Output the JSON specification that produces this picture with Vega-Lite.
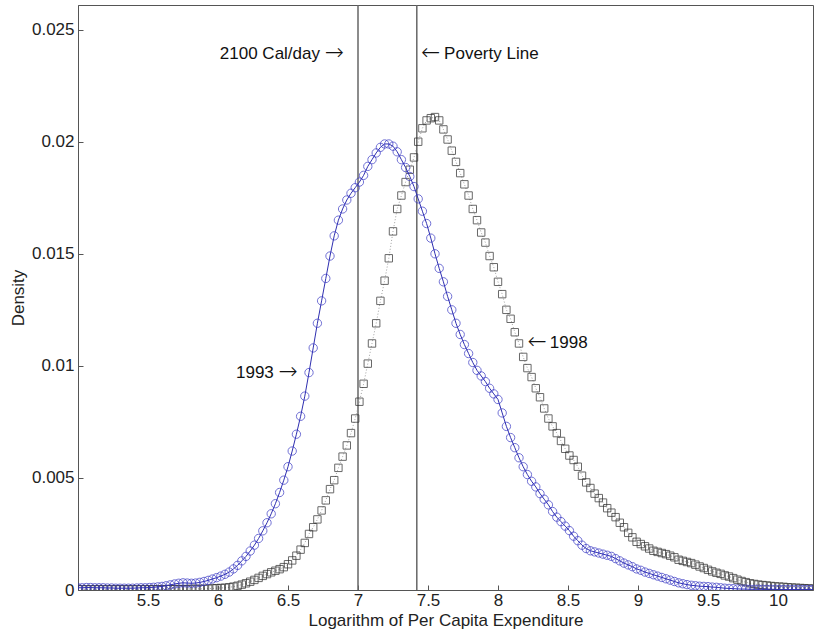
{
  "$schema": "https://vega.github.io/schema/vega-lite/v6.json",
  "width": 735,
  "height": 585,
  "autosize": {"type": "none"},
  "padding": {"left": 78, "top": 5, "right": 2, "bottom": 49},
  "background": "white",
  "config": {
    "view": {"stroke": "#555", "strokeWidth": 1},
    "font": "Liberation Sans",
    "axis": {
      "grid": false,
      "domainColor": "#555",
      "tickColor": "#555",
      "tickSize": -5,
      "labelFont": "Liberation Sans",
      "labelFontSize": 17,
      "labelColor": "#222",
      "titleFont": "Liberation Sans",
      "titleFontSize": 17,
      "titleFontWeight": "normal",
      "titleColor": "#222"
    }
  },
  "datasets": {
    "d93": [
      {"x":5.00,"y":0.00010},{"x":5.03,"y":0.00010},{"x":5.06,"y":0.00011},{"x":5.09,"y":0.00011},{"x":5.12,"y":0.00010},{"x":5.15,"y":0.00010},{"x":5.18,"y":0.00010},{"x":5.21,"y":0.00009},{"x":5.24,"y":0.00009},{"x":5.27,"y":0.00008},
      {"x":5.30,"y":0.00008},{"x":5.33,"y":0.00008},{"x":5.36,"y":0.00008},{"x":5.39,"y":0.00008},{"x":5.42,"y":0.00009},{"x":5.45,"y":0.00010},{"x":5.48,"y":0.00010},{"x":5.51,"y":0.00011},{"x":5.54,"y":0.00012},{"x":5.57,"y":0.00014},
      {"x":5.60,"y":0.00016},{"x":5.63,"y":0.00019},{"x":5.66,"y":0.00023},{"x":5.69,"y":0.00027},{"x":5.72,"y":0.00030},{"x":5.75,"y":0.00032},{"x":5.78,"y":0.00031},{"x":5.81,"y":0.00030},{"x":5.84,"y":0.00031},{"x":5.87,"y":0.00034},
      {"x":5.90,"y":0.00038},{"x":5.93,"y":0.00043},{"x":5.96,"y":0.00049},{"x":5.99,"y":0.00055},{"x":6.02,"y":0.00062},{"x":6.05,"y":0.00070},{"x":6.08,"y":0.00080},{"x":6.11,"y":0.00094},{"x":6.14,"y":0.00110},{"x":6.17,"y":0.00130},
      {"x":6.20,"y":0.00150},{"x":6.23,"y":0.00174},{"x":6.26,"y":0.00200},{"x":6.29,"y":0.00230},{"x":6.32,"y":0.00264},{"x":6.35,"y":0.00300},{"x":6.38,"y":0.00340},{"x":6.41,"y":0.00385},{"x":6.44,"y":0.00435},{"x":6.47,"y":0.00490},
      {"x":6.50,"y":0.00550},{"x":6.53,"y":0.00620},{"x":6.56,"y":0.00695},{"x":6.59,"y":0.00775},{"x":6.62,"y":0.00865},{"x":6.65,"y":0.00970},{"x":6.68,"y":0.01080},{"x":6.71,"y":0.01190},{"x":6.74,"y":0.01290},{"x":6.77,"y":0.01390},
      {"x":6.80,"y":0.01490},{"x":6.83,"y":0.01580},{"x":6.86,"y":0.01650},{"x":6.89,"y":0.01700},{"x":6.92,"y":0.01740},{"x":6.95,"y":0.01770},{"x":6.98,"y":0.01795},{"x":7.01,"y":0.01820},{"x":7.04,"y":0.01850},{"x":7.07,"y":0.01890},
      {"x":7.10,"y":0.01920},{"x":7.13,"y":0.01950},{"x":7.16,"y":0.01975},{"x":7.19,"y":0.01990},{"x":7.22,"y":0.01990},{"x":7.25,"y":0.01980},{"x":7.28,"y":0.01955},{"x":7.31,"y":0.01920},{"x":7.34,"y":0.01885},{"x":7.37,"y":0.01845},
      {"x":7.40,"y":0.01800},{"x":7.43,"y":0.01745},{"x":7.46,"y":0.01690},{"x":7.49,"y":0.01635},{"x":7.52,"y":0.01570},{"x":7.55,"y":0.01500},{"x":7.58,"y":0.01435},{"x":7.61,"y":0.01375},{"x":7.64,"y":0.01310},{"x":7.67,"y":0.01250},
      {"x":7.70,"y":0.01190},{"x":7.73,"y":0.01140},{"x":7.76,"y":0.01095},{"x":7.79,"y":0.01055},{"x":7.82,"y":0.01015},{"x":7.85,"y":0.00980},{"x":7.88,"y":0.00955},{"x":7.91,"y":0.00930},{"x":7.94,"y":0.00900},{"x":7.97,"y":0.00875},
      {"x":8.00,"y":0.00850},{"x":8.03,"y":0.00790},{"x":8.06,"y":0.00730},{"x":8.09,"y":0.00680},{"x":8.12,"y":0.00635},{"x":8.15,"y":0.00590},{"x":8.18,"y":0.00550},{"x":8.21,"y":0.00515},{"x":8.24,"y":0.00485},{"x":8.27,"y":0.00460},
      {"x":8.30,"y":0.00430},{"x":8.33,"y":0.00405},{"x":8.36,"y":0.00380},{"x":8.39,"y":0.00350},{"x":8.42,"y":0.00325},{"x":8.45,"y":0.00305},{"x":8.48,"y":0.00285},{"x":8.51,"y":0.00265},{"x":8.54,"y":0.00240},{"x":8.57,"y":0.00220},
      {"x":8.60,"y":0.00200},{"x":8.63,"y":0.00185},{"x":8.66,"y":0.00175},{"x":8.69,"y":0.00170},{"x":8.72,"y":0.00165},{"x":8.75,"y":0.00160},{"x":8.78,"y":0.00155},{"x":8.81,"y":0.00150},{"x":8.84,"y":0.00140},{"x":8.87,"y":0.00130},
      {"x":8.90,"y":0.00120},{"x":8.93,"y":0.00112},{"x":8.96,"y":0.00104},{"x":8.99,"y":0.00094},{"x":9.02,"y":0.00088},{"x":9.05,"y":0.00080},{"x":9.08,"y":0.00074},{"x":9.11,"y":0.00068},{"x":9.14,"y":0.00062},{"x":9.17,"y":0.00056},
      {"x":9.20,"y":0.00050},{"x":9.23,"y":0.00044},{"x":9.26,"y":0.00038},{"x":9.29,"y":0.00032},{"x":9.32,"y":0.00028},{"x":9.35,"y":0.00024},{"x":9.38,"y":0.00021},{"x":9.41,"y":0.00019},{"x":9.44,"y":0.00017},{"x":9.47,"y":0.00016},
      {"x":9.50,"y":0.00015},{"x":9.53,"y":0.00013},{"x":9.56,"y":0.00012},{"x":9.59,"y":0.00010},{"x":9.62,"y":0.00008},{"x":9.65,"y":0.00007},{"x":9.68,"y":0.00006},{"x":9.71,"y":0.00005},{"x":9.74,"y":0.00004},{"x":9.77,"y":0.00004},
      {"x":9.80,"y":0.00003},{"x":9.83,"y":0.00003},{"x":9.86,"y":0.00003},{"x":9.89,"y":0.00003},{"x":9.92,"y":0.00003},{"x":9.95,"y":0.00003},{"x":9.98,"y":0.00003},{"x":10.01,"y":0.00002},{"x":10.04,"y":0.00002},{"x":10.07,"y":0.00002},
      {"x":10.10,"y":0.00002},{"x":10.13,"y":0.00002},{"x":10.16,"y":0.00002},{"x":10.19,"y":0.00002},{"x":10.22,"y":0.00002},{"x":10.25,"y":0.00002}
    ],
    "d98": [
      {"x":5.00,"y":0.00003},{"x":5.03,"y":0.00003},{"x":5.06,"y":0.00003},{"x":5.09,"y":0.00003},{"x":5.12,"y":0.00003},{"x":5.15,"y":0.00003},{"x":5.18,"y":0.00003},{"x":5.21,"y":0.00003},{"x":5.24,"y":0.00003},{"x":5.27,"y":0.00003},
      {"x":5.30,"y":0.00003},{"x":5.33,"y":0.00003},{"x":5.36,"y":0.00003},{"x":5.39,"y":0.00003},{"x":5.42,"y":0.00003},{"x":5.45,"y":0.00003},{"x":5.48,"y":0.00003},{"x":5.51,"y":0.00003},{"x":5.54,"y":0.00003},{"x":5.57,"y":0.00003},
      {"x":5.60,"y":0.00003},{"x":5.63,"y":0.00004},{"x":5.66,"y":0.00004},{"x":5.69,"y":0.00004},{"x":5.72,"y":0.00004},{"x":5.75,"y":0.00004},{"x":5.78,"y":0.00004},{"x":5.81,"y":0.00005},{"x":5.84,"y":0.00005},{"x":5.87,"y":0.00005},
      {"x":5.90,"y":0.00005},{"x":5.93,"y":0.00006},{"x":5.96,"y":0.00007},{"x":5.99,"y":0.00008},{"x":6.02,"y":0.00009},{"x":6.05,"y":0.00010},{"x":6.08,"y":0.00012},{"x":6.11,"y":0.00015},{"x":6.14,"y":0.00019},{"x":6.17,"y":0.00024},
      {"x":6.20,"y":0.00030},{"x":6.23,"y":0.00037},{"x":6.26,"y":0.00045},{"x":6.29,"y":0.00054},{"x":6.32,"y":0.00063},{"x":6.35,"y":0.00071},{"x":6.38,"y":0.00079},{"x":6.41,"y":0.00086},{"x":6.44,"y":0.00093},{"x":6.47,"y":0.00102},
      {"x":6.50,"y":0.00115},{"x":6.53,"y":0.00132},{"x":6.56,"y":0.00153},{"x":6.59,"y":0.00180},{"x":6.62,"y":0.00210},{"x":6.65,"y":0.00250},{"x":6.68,"y":0.00280},{"x":6.71,"y":0.00315},{"x":6.74,"y":0.00355},{"x":6.77,"y":0.00400},
      {"x":6.80,"y":0.00450},{"x":6.83,"y":0.00490},{"x":6.86,"y":0.00545},{"x":6.89,"y":0.00595},{"x":6.92,"y":0.00645},{"x":6.95,"y":0.00700},{"x":6.98,"y":0.00765},{"x":7.01,"y":0.00840},{"x":7.04,"y":0.00920},{"x":7.07,"y":0.01010},
      {"x":7.10,"y":0.01100},{"x":7.13,"y":0.01190},{"x":7.16,"y":0.01290},{"x":7.19,"y":0.01380},{"x":7.22,"y":0.01480},{"x":7.25,"y":0.01600},{"x":7.28,"y":0.01700},{"x":7.31,"y":0.01760},{"x":7.34,"y":0.01820},{"x":7.37,"y":0.01875},
      {"x":7.40,"y":0.01930},{"x":7.43,"y":0.02000},{"x":7.46,"y":0.02060},{"x":7.49,"y":0.02095},{"x":7.52,"y":0.02105},{"x":7.55,"y":0.02110},{"x":7.58,"y":0.02095},{"x":7.61,"y":0.02055},{"x":7.64,"y":0.02010},{"x":7.67,"y":0.01960},
      {"x":7.70,"y":0.01910},{"x":7.73,"y":0.01860},{"x":7.76,"y":0.01810},{"x":7.79,"y":0.01760},{"x":7.82,"y":0.01700},{"x":7.85,"y":0.01650},{"x":7.88,"y":0.01595},{"x":7.91,"y":0.01550},{"x":7.94,"y":0.01490},{"x":7.97,"y":0.01440},
      {"x":8.00,"y":0.01375},{"x":8.03,"y":0.01320},{"x":8.06,"y":0.01250},{"x":8.09,"y":0.01210},{"x":8.12,"y":0.01150},{"x":8.15,"y":0.01100},{"x":8.18,"y":0.01040},{"x":8.21,"y":0.00990},{"x":8.24,"y":0.00950},{"x":8.27,"y":0.00900},
      {"x":8.30,"y":0.00860},{"x":8.33,"y":0.00810},{"x":8.36,"y":0.00765},{"x":8.39,"y":0.00730},{"x":8.42,"y":0.00700},{"x":8.45,"y":0.00665},{"x":8.48,"y":0.00630},{"x":8.51,"y":0.00600},{"x":8.54,"y":0.00580},{"x":8.57,"y":0.00550},
      {"x":8.60,"y":0.00510},{"x":8.63,"y":0.00480},{"x":8.66,"y":0.00455},{"x":8.69,"y":0.00430},{"x":8.72,"y":0.00410},{"x":8.75,"y":0.00390},{"x":8.78,"y":0.00365},{"x":8.81,"y":0.00345},{"x":8.84,"y":0.00325},{"x":8.87,"y":0.00300},
      {"x":8.90,"y":0.00280},{"x":8.93,"y":0.00255},{"x":8.96,"y":0.00235},{"x":8.99,"y":0.00215},{"x":9.02,"y":0.00205},{"x":9.05,"y":0.00195},{"x":9.08,"y":0.00185},{"x":9.11,"y":0.00175},{"x":9.14,"y":0.00170},{"x":9.17,"y":0.00165},
      {"x":9.20,"y":0.00160},{"x":9.23,"y":0.00153},{"x":9.26,"y":0.00146},{"x":9.29,"y":0.00135},{"x":9.32,"y":0.00130},{"x":9.35,"y":0.00125},{"x":9.38,"y":0.00120},{"x":9.41,"y":0.00113},{"x":9.44,"y":0.00105},{"x":9.47,"y":0.00098},
      {"x":9.50,"y":0.00090},{"x":9.53,"y":0.00083},{"x":9.56,"y":0.00077},{"x":9.59,"y":0.00072},{"x":9.62,"y":0.00065},{"x":9.65,"y":0.00060},{"x":9.68,"y":0.00053},{"x":9.71,"y":0.00046},{"x":9.74,"y":0.00040},{"x":9.77,"y":0.00035},
      {"x":9.80,"y":0.00030},{"x":9.83,"y":0.00027},{"x":9.86,"y":0.00024},{"x":9.89,"y":0.00022},{"x":9.92,"y":0.00020},{"x":9.95,"y":0.00018},{"x":9.98,"y":0.00016},{"x":10.01,"y":0.00015},{"x":10.04,"y":0.00014},{"x":10.07,"y":0.00012},
      {"x":10.10,"y":0.00011},{"x":10.13,"y":0.00010},{"x":10.16,"y":0.00009},{"x":10.19,"y":0.00008},{"x":10.22,"y":0.00007},{"x":10.25,"y":0.00006}
    ],
    "vlines": [{"v": 7.0}, {"v": 7.42}],
    "labR": [
      {"x": 6.90, "y": 0.0239, "t": "2100 Cal/day"},
      {"x": 6.57, "y": 0.0097, "t": "1993"}
    ],
    "labL": [
      {"x": 7.615, "y": 0.0239, "t": "Poverty Line"},
      {"x": 8.37, "y": 0.0110, "t": "1998"}
    ],
    "arrR": [
      {"x": 6.90, "y": 0.0239, "t": "→"},
      {"x": 6.57, "y": 0.0097, "t": "→"}
    ],
    "arrL": [
      {"x": 7.45, "y": 0.0239, "t": "←"},
      {"x": 8.21, "y": 0.0110, "t": "←"}
    ]
  },
  "layer": [
    {
      "data": {"name": "vlines"},
      "mark": {"type": "rule", "color": "#666", "strokeWidth": 1.5},
      "encoding": {
        "x": {
          "field": "v", "type": "quantitative",
          "scale": {"domain": [5, 10.25], "nice": false, "zero": false},
          "axis": {
            "values": [5.5, 6, 6.5, 7, 7.5, 8, 8.5, 9, 9.5, 10],
            "format": "~g",
            "title": "Logarithm of Per Capita Expenditure",
            "labelPadding": 7,
            "titlePadding": 4
          }
        },
        "y": {"value": 0},
        "y2": {"value": 585}
      }
    },
    {
      "data": {"name": "d98"},
      "mark": {"type": "line", "color": "#888", "strokeWidth": 0.8, "strokeDash": [1, 2], "clip": true},
      "encoding": {
        "x": {"field": "x", "type": "quantitative"},
        "y": {
          "field": "y", "type": "quantitative",
          "scale": {"domain": [0, 0.0261], "nice": false},
          "axis": {
            "values": [0, 0.005, 0.01, 0.015, 0.02, 0.025],
            "format": "~g",
            "title": "Density",
            "labelPadding": 9,
            "titlePadding": 4
          }
        }
      }
    },
    {
      "data": {"name": "d98"},
      "mark": {"type": "point", "shape": "square", "filled": false, "color": "#2a2a2a", "size": 55, "strokeWidth": 1, "clip": true},
      "encoding": {
        "x": {"field": "x", "type": "quantitative"},
        "y": {"field": "y", "type": "quantitative"}
      }
    },
    {
      "data": {"name": "d93"},
      "mark": {"type": "line", "color": "#2f2fb0", "strokeWidth": 1, "clip": true},
      "encoding": {
        "x": {"field": "x", "type": "quantitative"},
        "y": {"field": "y", "type": "quantitative"}
      }
    },
    {
      "data": {"name": "d93"},
      "mark": {"type": "point", "shape": "circle", "filled": false, "color": "#3535c4", "size": 70, "strokeWidth": 1, "clip": true},
      "encoding": {
        "x": {"field": "x", "type": "quantitative"},
        "y": {"field": "y", "type": "quantitative"}
      }
    },
    {
      "data": {"name": "labR"},
      "mark": {"type": "text", "align": "right", "baseline": "middle", "dx": -24, "font": "Liberation Sans", "fontSize": 17, "color": "#111"},
      "encoding": {
        "x": {"field": "x", "type": "quantitative"},
        "y": {"field": "y", "type": "quantitative"},
        "text": {"field": "t"}
      }
    },
    {
      "data": {"name": "arrR"},
      "mark": {"type": "text", "align": "right", "baseline": "middle", "dy": -1, "font": "DejaVu Sans", "fontWeight": 200, "fontSize": 23, "color": "#111"},
      "encoding": {
        "x": {"field": "x", "type": "quantitative"},
        "y": {"field": "y", "type": "quantitative"},
        "text": {"field": "t"}
      }
    },
    {
      "data": {"name": "labL"},
      "mark": {"type": "text", "align": "left", "baseline": "middle", "font": "Liberation Sans", "fontSize": 17, "color": "#111"},
      "encoding": {
        "x": {"field": "x", "type": "quantitative"},
        "y": {"field": "y", "type": "quantitative"},
        "text": {"field": "t"}
      }
    },
    {
      "data": {"name": "arrL"},
      "mark": {"type": "text", "align": "left", "baseline": "middle", "dy": -1, "font": "DejaVu Sans", "fontWeight": 200, "fontSize": 23, "color": "#111"},
      "encoding": {
        "x": {"field": "x", "type": "quantitative"},
        "y": {"field": "y", "type": "quantitative"},
        "text": {"field": "t"}
      }
    }
  ]
}
